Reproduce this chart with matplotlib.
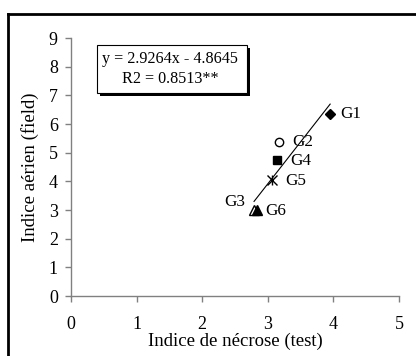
import numpy as np
import matplotlib.pyplot as plt
from matplotlib.lines import Line2D
from matplotlib.patches import Rectangle

plt.rcParams['font.family'] = ['Liberation Serif', 'DejaVu Serif']

# data
groups = ["G1", "G2", "G3", "G4", "G5", "G6"]
necrose = [3.95, 3.17, 2.79, 3.14, 3.06, 2.83]
aerien = [6.35, 5.38, 3.0, 4.74, 4.05, 3.0]
slope = 2.9264
intercept = -4.8645
r2 = 0.8513
x_ticks = [0, 1, 2, 3, 4, 5]
y_ticks = list(range(0, 10))

fig = plt.figure(figsize=(4.16, 3.56), dpi=100)
ax = fig.add_axes([0.1707, 0.1685, 0.7885, 0.7247])

# regression line over the data range
xl = np.array([min(necrose), max(necrose)])
ax.plot(xl, slope * xl + intercept, color="black", lw=0.8)

styles = {
    "G1": dict(marker="D", ms=5.5, mfc="black", mec="black"),
    "G2": dict(marker="o", ms=6, mfc="white", mec="black", mew=1),
    "G3": dict(marker="^", ms=7, mfc="white", mec="black", mew=1),
    "G4": dict(marker="s", ms=6, mfc="black", mec="black"),
    "G5": dict(marker="x", ms=7, mfc="black", mec="black", mew=1),
    "G6": dict(marker="^", ms=7, mfc="black", mec="black"),
}
offsets = {
    "G1": (10, 0, "left"),
    "G2": (13, 0, "left"),
    "G3": (-9, 8, "right"),
    "G4": (13, -1, "left"),
    "G5": (13, -1, "left"),
    "G6": (9, -1, "left"),
}
for g, x, y in zip(groups, necrose, aerien):
    ax.plot([x], [y], ls="none", zorder=3, **styles[g])
    if g == "G5":
        ax.plot([x], [y], ls="none", marker="|", ms=7, mec="black", mew=1, zorder=3)
    dx, dy, ha = offsets[g]
    ax.annotate(g, (x, y), xytext=(dx, dy), textcoords="offset pixels",
                ha=ha, va="center", fontsize=12.3)

ax.set_xlim(0, 5)
ax.set_ylim(0, 9)
ax.set_xticks(x_ticks)
ax.set_yticks(y_ticks)
for s in ["top", "right"]:
    ax.spines[s].set_visible(False)
for s in ["left", "bottom"]:
    ax.spines[s].set_color("#808080")
    ax.spines[s].set_linewidth(1)
ax.tick_params(direction="out", length=4.5, width=1, color="#808080",
               labelsize=13)
ax.tick_params(axis="x", pad=10)
ax.tick_params(axis="y", pad=5)
ax.set_xlabel("Indice de nécrose (test)", fontsize=13.5, labelpad=0)
ax.set_ylabel("Indice aérien (field)", fontsize=13.5, labelpad=7)

# equation box with shadow
fig.patches.append(Rectangle((100 / 416, 1 - 96 / 356), 150 / 416, 48 / 356,
                             transform=fig.transFigure, facecolor="black",
                             edgecolor="none", zorder=1))
fig.patches.append(Rectangle((97 / 416, 1 - 93 / 356), 150 / 416, 48 / 356,
                             transform=fig.transFigure, facecolor="white",
                             edgecolor="black", lw=0.8, zorder=2))
fig.text(170 / 416, 1 - 59 / 356, f"y = {slope}x - {abs(intercept)}",
         ha="center", va="center", fontsize=11.6, zorder=3)
fig.text(170 / 416, 1 - 79 / 356, f"R2 = {r2}**",
         ha="center", va="center", fontsize=11.6, zorder=3)

# outer frame
fig.add_artist(Line2D([8 / 416, 1], [1 - 14 / 356] * 2, color="black", lw=2,
                      transform=fig.transFigure))
fig.add_artist(Line2D([8 / 416] * 2, [0, 1 - 14 / 356], color="black", lw=2,
                      transform=fig.transFigure))

plt.savefig("out.png", dpi=100)
